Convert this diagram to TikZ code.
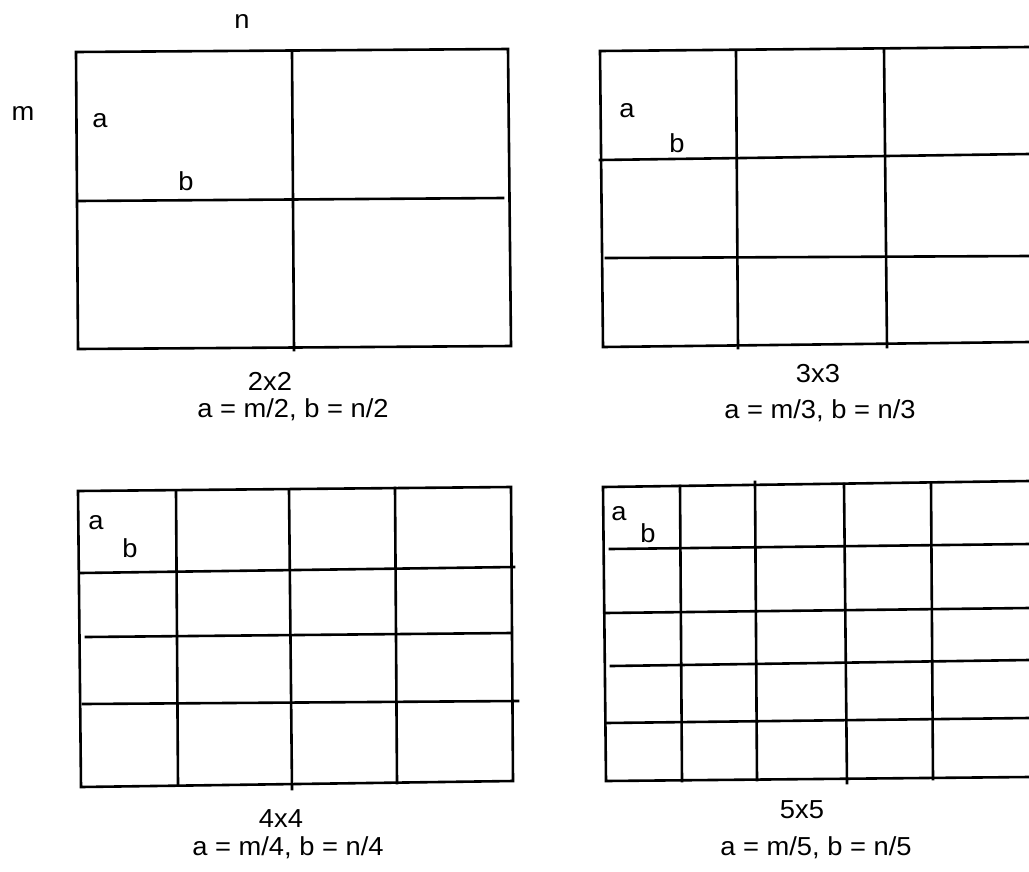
\documentclass[tikz,border=0pt]{standalone}
\usepackage{fontspec}
\setmainfont[FakeStretch=1.05]{Liberation Sans}
\begin{document}
\begin{tikzpicture}[x=1pt,y=-1pt,
  gl/.style={line width=2.6pt, line cap=rect, line join=miter},
  lbl/.style={anchor=base, inner sep=0pt, font=\fontsize{26}{30}\selectfont}]
\useasboundingbox (0,0) rectangle (1029,871);
\fill[white] (0,0) rectangle (1029,871);

% ---------- grid 1 : 2x2 ----------
\draw[gl] (76,52) -- (508,49) -- (511,346) -- (78,349) -- cycle;
\draw[gl] (292,52) -- (294,350);
\draw[gl] (78,201) -- (503,198);
\node[lbl] (n1) at (242,28) {n};
\node[lbl] (m1) at (23,120) {m};
\node[lbl] (a1) at (100,127) {a};
\node[lbl] (b1) at (186,190) {b};
\node[lbl] (t1) at (270,390) {2x2};
\node[lbl] (f1) at (293,417) {a = m/2, b = n/2};

% ---------- grid 2 : 3x3 ----------
\draw[gl] (1029,47) -- (600,51) -- (603,347) -- (1029,342);
\draw[gl] (736,51) -- (738,348);
\draw[gl] (884,49) -- (887,347);
\draw[gl] (600,160) -- (1029,154);
\draw[gl] (606,258) -- (1029,256);
\node[lbl] (a2) at (627,117) {a};
\node[lbl] (b2) at (677,152) {b};
\node[lbl] (t2) at (818,382) {3x3};
\node[lbl] (f2) at (820,418) {a = m/3, b = n/3};

% ---------- grid 3 : 4x4 ----------
\draw[gl] (78,491) -- (511,487) -- (513,781) -- (81,787) -- cycle;
\draw[gl] (176,491) -- (178,785);
\draw[gl] (289,490) -- (292,789);
\draw[gl] (395,488) -- (397,783);
\draw[gl] (80,573) -- (514,567);
\draw[gl] (86,637) -- (511,633);
\draw[gl] (83,704) -- (518,701);
\node[lbl] (a3) at (96,529) {a};
\node[lbl] (b3) at (130,557) {b};
\node[lbl] (t3) at (281,827) {4x4};
\node[lbl] (f3) at (288,855) {a = m/4, b = n/4};

% ---------- grid 4 : 5x5 ----------
\draw[gl] (1029,481) -- (603,487) -- (606,781) -- (1029,777);
\draw[gl] (680,486) -- (682,781);
\draw[gl] (755,482) -- (757,780);
\draw[gl] (844,484) -- (847,783);
\draw[gl] (931,483) -- (933,779);
\draw[gl] (610,549) -- (1029,544);
\draw[gl] (605,613) -- (1029,608);
\draw[gl] (611,666) -- (1029,660);
\draw[gl] (606,723) -- (1029,718);
\node[lbl] (a4) at (619,520) {a};
\node[lbl] (b4) at (648,542) {b};
\node[lbl] (t4) at (802,818) {5x5};
\node[lbl] (f4) at (816,855) {a = m/5, b = n/5};
\end{tikzpicture}
\end{document}
